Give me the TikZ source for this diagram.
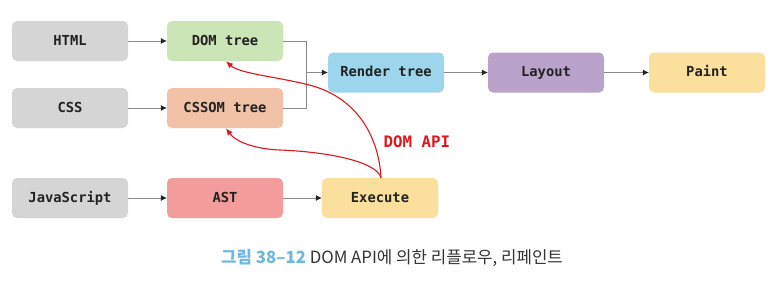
\documentclass[tikz,border=0pt]{standalone}
\usepackage{fontspec}
\setmonofont{DejaVu Sans Mono}
\newfontfamily\krfont{Noto Sans CJK KR}
\usetikzlibrary{arrows.meta}
\definecolor{boxgray}{HTML}{D5D5D5}
\definecolor{domgreen}{HTML}{CCE5B6}
\definecolor{cssomorange}{HTML}{F2C2A6}
\definecolor{renderblue}{HTML}{9DD5EC}
\definecolor{layoutpurple}{HTML}{BAA3CA}
\definecolor{paintyellow}{HTML}{FBDF9D}
\definecolor{astred}{HTML}{F29C9C}
\definecolor{apired}{HTML}{E3161E}
\definecolor{capblue}{HTML}{6CB9E2}
\definecolor{captext}{HTML}{333333}
\definecolor{linegray}{HTML}{8A8A8A}
\definecolor{textdark}{HTML}{222222}
\tikzset{
  stepbox/.style={rounded corners=5pt, minimum width=116pt, minimum height=40pt,
    inner sep=0pt, text height=10pt, text depth=2pt,
    font=\ttfamily\bfseries\fontsize{13.8}{16}\selectfont, text=textdark},
  flow/.style={draw=linegray, line width=0.7pt, -{Latex[length=6pt,width=6pt,color=textdark]}},
  apiflow/.style={draw=apired, line width=1.1pt, -{Latex[length=7pt,width=6pt]}},
}
\begin{document}
\begin{tikzpicture}[x=1pt,y=-1pt]
\useasboundingbox[fill=white] (0,0) rectangle (783,281);
\node[stepbox, fill=boxgray] (html) at (70,41) {HTML};
\node[stepbox, fill=domgreen] (dom) at (225,41) {DOM tree};
\node[stepbox, fill=boxgray] (css) at (70,108) {CSS};
\node[stepbox, fill=cssomorange] (cssom) at (225,108) {CSSOM tree};
\node[stepbox, fill=renderblue] (render) at (386,72.5) {Render tree};
\node[stepbox, fill=layoutpurple] (layout) at (546,72.5) {Layout};
\node[stepbox, fill=paintyellow] (paint) at (707,72.5) {Paint};
\node[stepbox, fill=boxgray] (js) at (70,198) {JavaScript};
\node[stepbox, fill=astred] (ast) at (225,198) {AST};
\node[stepbox, fill=paintyellow] (exec) at (380,198) {Execute};
\coordinate (join) at (306,72.5);

\draw[flow] (html) -- (dom);
\draw[flow] (css) -- (cssom);
\draw[flow] (js) -- (ast);
\draw[flow] (ast) -- (exec);
\draw[flow] (render) -- (layout);
\draw[flow] (layout) -- (paint);
\draw[draw=linegray, line width=0.7pt] (dom.east) -| (join);
\draw[draw=linegray, line width=0.7pt] (cssom.east) -| (join);
\draw[flow] (join) -- (render.west);

\coordinate (src) at ([xshift=1pt]exec.north);
\draw[apiflow] (src) .. controls (379,140) and (360,100) .. (313,86)
  .. controls (280,77) and (240,74) .. ([xshift=1pt]dom.south);
\draw[apiflow] (src) .. controls (377,162) and (330,152) .. (280,150)
  .. controls (255,149) and (236,142) .. ([xshift=1pt]cssom.south);
\node[font=\ttfamily\bfseries\fontsize{15.8}{18}\selectfont, text=apired, anchor=west] (api) at (380,142) {DOM API};

\node[font=\krfont\fontsize{16.8}{20}\selectfont, text=captext] (cap) at (392,258)
  {{\color{capblue}\bfseries 그림 38–12} DOM API에 의한 리플로우, 리페인트};
\end{tikzpicture}
\end{document}
